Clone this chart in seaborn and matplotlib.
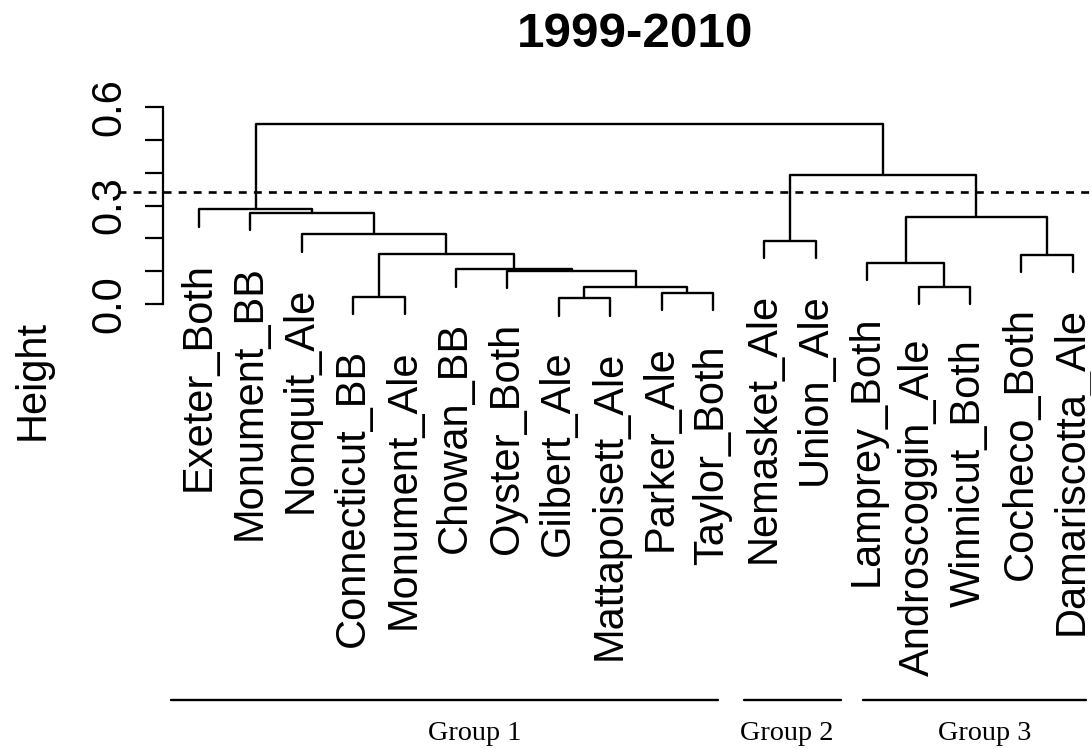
import matplotlib
matplotlib.use("Agg")
import matplotlib.pyplot as plt
import matplotlib.transforms as mtransforms
import pandas as pd
import seaborn as sns

#----------------------------------------------
''' DATA '''
#----------------------------------------------

leaf_labels = ["Exeter_Both", "Monument_BB", "Nonquit_Ale", "Connecticut_BB",
               "Monument_Ale", "Chowan_BB", "Oyster_Both", "Gilbert_Ale",
               "Mattapoisett_Ale", "Parker_Ale", "Taylor_Both", "Nemasket_Ale",
               "Union_Ale", "Lamprey_Both", "Androscoggin_Ale", "Winnicut_Both",
               "Cocheco_Both", "Damariscotta_Ale"]

# hclust style merge table: negative = leaf (position in order), positive = earlier merge
merge_left = [-4, -8, -10, 2, -7, -6, 1, -3, -2, -1, -15, -14, -17, 12, -12, 15, 10]
merge_right = [-5, -9, -11, 3, 4, 5, 6, 7, 8, 9, -16, 11, -18, 13, -13, 14, 16]
merge_height = [0.023, 0.019, 0.036, 0.054, 0.102, 0.107, 0.152, 0.213, 0.278,
                0.289, 0.054, 0.127, 0.151, 0.266, 0.193, 0.393, 0.546]

cut_height = 0.34

group_names = ["Group 1", "Group 2", "Group 3"]
group_start = [0.45, 11.60, 13.91]
group_end = [11.10, 13.49, 18.26]
group_label_x = [6.37, 12.43, 16.29]

#----------------------------------------------
''' PROCESS DATA '''
#----------------------------------------------

hang = 0.1 * (max(merge_height) - min(merge_height))
merge_x = {}
leaf_tip = {}


def child_xy(c, h):
    if c < 0:
        leaf_tip[-c] = h - hang
        return -c, h - hang
    return merge_x[c], merge_height[c - 1]


rows = []
for k, (a, b, h) in enumerate(zip(merge_left, merge_right, merge_height), start=1):
    xa, ya = child_xy(a, h)
    xb, yb = child_xy(b, h)
    for px, py in [(xa, ya), (xa, h), (xb, h), (xb, yb)]:
        rows.append({"seg": k, "x": px, "y": py})
    merge_x[k] = (xa + xb) / 2
seg_df = pd.DataFrame(rows)

#----------------------------------------------
''' PLOT DATA '''
#----------------------------------------------

sns.set_theme(style="white")
plt.rcParams["font.family"] = ["Liberation Sans", "DejaVu Sans"]
plt.rcParams["text.color"] = "black"
plt.rcParams["axes.labelcolor"] = "black"
plt.rcParams["ytick.color"] = "black"
plt.rcParams["ytick.labelcolor"] = "black"

W, H = 1091, 749
fig = plt.figure(figsize=(W / 100, H / 100), dpi=100)
ax = fig.add_axes([163 / W, 1 - 320 / H, (1108 - 163) / W, (320 - 90) / H])

sns.lineplot(data=seg_df, x="x", y="y", units="seg", estimator=None, sort=False,
             color="black", linewidth=1.7, ax=ax)

ax.set_xlim(0.2996, 18.685)
ax.set_ylim(-0.0473, 0.6505)
ax.set_xlabel("")
ax.set_ylabel("")
ax.set_xticks([])

# leaf labels hang below the leaf tips
lab_tr = mtransforms.offset_copy(ax.transData, fig=fig, x=10.3, y=-35, units="dots")
for i, name in enumerate(leaf_labels, start=1):
    ax.text(i, leaf_tip[i], name, rotation=90, rotation_mode="anchor", color="black",
            ha="right", va="baseline", fontsize=30, transform=lab_tr, clip_on=False)

# cut line
ax.axhline(cut_height, xmin=(118 - 163) / 945, xmax=1.05, color="black",
           linewidth=1.9, linestyle=(0, (3.0, 2.7)), clip_on=False)

# y axis like R
for s in ["top", "right", "bottom"]:
    ax.spines[s].set_visible(False)
ax.spines["left"].set_bounds(0, 0.6)
ax.spines["left"].set_linewidth(1.6)
ax.spines["left"].set_color("black")
ax.set_yticks([0.0, 0.3, 0.6])
ax.set_yticklabels(["0.0", "0.3", "0.6"])
ax.set_yticks([0.1, 0.2, 0.4, 0.5], minor=True)
ax.tick_params(axis="y", which="both", left=True, length=13, width=1.6,
               color="black", labelcolor="black", direction="out", pad=11,
               labelsize=30)
plt.setp(ax.get_yticklabels(), rotation=90, va="center")

fig.text(43.3 / W, 1 - 380 / H, "Height", rotation=90, rotation_mode="anchor",
         ha="center", va="baseline", fontsize=30, color="black")
fig.text(635.5 / W, 1 - 47.3 / H, "1999-2010", ha="center", va="baseline",
         fontsize=35.6, fontweight="bold", color="black")

# group bars under the labels
trans = mtransforms.blended_transform_factory(ax.transData, fig.transFigure)
for name, s, e, lx in zip(group_names, group_start, group_end, group_label_x):
    ax.plot([s, e], [1 - 699.5 / H, 1 - 699.5 / H], color="black", linewidth=1.7,
            transform=trans, clip_on=False)
    ax.text(lx, 1 - 739.5 / H, name, ha="center", va="baseline", fontsize=20.3,
            family="Liberation Serif", color="black", transform=trans)

fig.savefig("out.png", dpi=100)
